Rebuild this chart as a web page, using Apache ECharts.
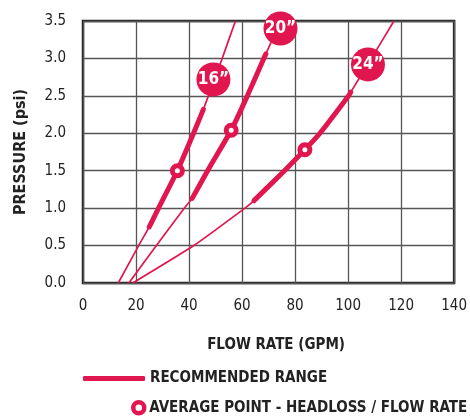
<!DOCTYPE html>
<html>
<head>
<meta charset="utf-8">
<script src="https://cdn.jsdelivr.net/npm/echarts@6/dist/echarts.min.js"></script>
<style>
  html, body { margin: 0; padding: 0; background: #fff; }
  #chart { width: 470px; height: 420px; }
</style>
</head>
<body>
<div id="chart"></div>
<script>
// headloss curves (flow in GPM, pressure in psi)
var flow16 = [13.3, 21.0, 25.0, 28.5, 35.6, 41.7, 45.4, 47.3, 52.5, 57.5];
var psi16  = [0, 0.5, 0.75, 1.0, 1.5, 2.0, 2.32, 2.5, 3.0, 3.5];
var flow20 = [17.3, 27.7, 38.2, 41.2, 47.0, 55.9, 62.0, 68.2, 69.0, 74.5];
var psi20  = [0, 0.5, 1.0, 1.13, 1.5, 2.04, 2.5, 3.0, 3.06, 3.5];
var flow24 = [18.8, 41.8, 61.1, 64.5, 76.0, 83.7, 89.4, 100.2, 101.0, 108.8, 117.3];
var psi24  = [0, 0.5, 1.0, 1.1, 1.5, 1.78, 2.0, 2.5, 2.55, 3.0, 3.5];

// recommended range (psi from - to) for each size
var range16 = [0.75, 2.32];
var range20 = [1.13, 3.06];
var range24 = [1.1, 2.55];

// average point [flow, psi]
var avg16 = [35.6, 1.5];
var avg20 = [55.9, 2.04];
var avg24 = [83.7, 1.78];

// size tags [flow, psi, text]
var tags = [
    [49.2, 2.72, '16\u201D'],
    [74.5, 3.40, '20\u201D'],
    [107.5, 2.92, '24\u201D']
];

var xTicks = [0, 140, 20];
var yTicks = [0, 3.5, 0.5];

var red = '#e2164f';
var font = "'DejaVu Sans Condensed', 'Roboto', sans-serif";

function pairs(flow, psi) {
    return flow.map(function (f, i) { return [f, psi[i]]; });
}
function inRange(flow, psi, range) {
    return pairs(flow, psi).filter(function (p) {
        return p[1] >= range[0] && p[1] <= range[1];
    });
}

function thinLine(data) {
    return {
        type: 'line', data: data, smooth: 0.15,
        showSymbol: false, silent: true,
        lineStyle: { color: red, width: 1.7 }, z: 3
    };
}
function thickLine(data) {
    return {
        name: 'RECOMMENDED RANGE',
        type: 'line', data: data, smooth: 0.15,
        showSymbol: false, silent: true,
        itemStyle: { color: red },
        lineStyle: { color: red, width: 5, cap: 'round' }, z: 4
    };
}

var option = {
    animation: false,
    textStyle: { fontFamily: font },
    grid: {
        left: 83, right: 11, top: 21, bottom: 137,
        show: true, borderColor: '#222', borderWidth: 2.5
    },
    legend: [{
        data: [{ name: 'RECOMMENDED RANGE', icon: 'roundRect' }],
        left: 78, top: 366,
        itemWidth: 62, itemHeight: 5, itemGap: 6,
        textStyle: { fontFamily: font, fontWeight: 'bold', fontSize: 15, color: '#222' }
    }, {
        data: [{
            name: 'AVERAGE POINT - HEADLOSS / FLOW RATE', icon: 'circle',
            itemStyle: { color: '#fff', borderColor: red, borderWidth: 4.5 }
        }],
        left: 126, top: 395,
        itemWidth: 11, itemHeight: 11, itemGap: 8,
        textStyle: { fontFamily: font, fontWeight: 'bold', fontSize: 15, color: '#222' }
    }],
    xAxis: {
        type: 'value', min: xTicks[0], max: xTicks[1], interval: xTicks[2],
        name: 'FLOW RATE (GPM)', nameLocation: 'middle', nameGap: 55,
        nameTextStyle: { fontFamily: font, fontWeight: 'bold', fontSize: 15, color: '#222', padding: [0, 0, 0, 15] },
        axisLine: { show: false },
        axisTick: { show: false },
        axisLabel: { margin: 16, fontSize: 15, color: '#222', fontFamily: font },
        splitLine: { lineStyle: { color: '#555', width: 1.3 } }
    },
    yAxis: {
        type: 'value', min: yTicks[0], max: yTicks[1], interval: yTicks[2],
        name: 'PRESSURE (psi)', nameLocation: 'middle', nameGap: 54,
        nameTextStyle: { fontFamily: font, fontWeight: 'bold', fontSize: 16, color: '#222' },
        axisLine: { show: false },
        axisTick: { show: false },
        axisLabel: {
            margin: 17, fontSize: 15, color: '#222', fontFamily: font,
            formatter: function (v) { return v.toFixed(1); }
        },
        splitLine: { lineStyle: { color: '#555', width: 1.3 } }
    },
    series: [
        thinLine(pairs(flow16, psi16)),
        thinLine(pairs(flow20, psi20)),
        thinLine(pairs(flow24, psi24)),
        thickLine(inRange(flow16, psi16, range16)),
        thickLine(inRange(flow20, psi20, range20)),
        thickLine(inRange(flow24, psi24, range24)),
        {
            name: 'AVERAGE POINT - HEADLOSS / FLOW RATE',
            type: 'scatter', data: [avg16, avg20, avg24],
            symbol: 'circle', symbolSize: 10, silent: true,
            itemStyle: { color: '#fff', borderColor: red, borderWidth: 5, opacity: 1 },
            z: 5
        },
        {
            type: 'scatter', silent: true,
            data: tags.map(function (t) { return { value: [t[0], t[1]], name: t[2] }; }),
            symbol: 'circle', symbolSize: 34,
            itemStyle: { color: red, opacity: 1 },
            label: {
                show: true, position: 'inside', formatter: '{b}',
                color: '#fff', fontFamily: font, fontWeight: 'bold', fontSize: 17
            },
            z: 6
        }
    ]
};

var chart = echarts.init(document.getElementById('chart'));
chart.setOption(option);
</script>
</body>
</html>
